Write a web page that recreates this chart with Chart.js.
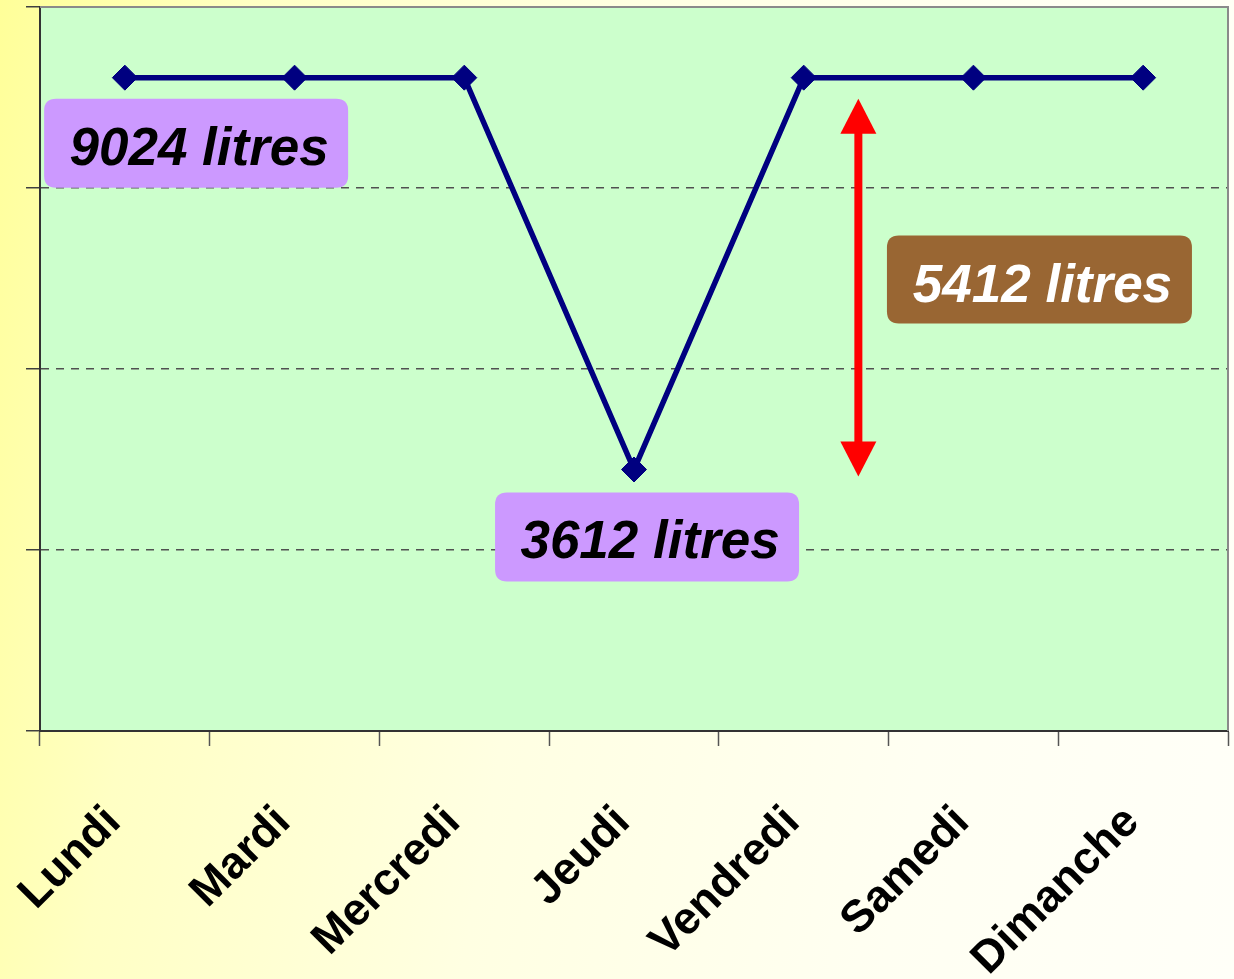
<!DOCTYPE html>
<html lang="fr">
<head>
<meta charset="utf-8">
<title>Consommation d'eau par jour</title>
<script src="https://cdn.jsdelivr.net/npm/chart.js@4"></script>
<style>
  html, body { margin: 0; padding: 0; }
  body {
    width: 1234px; height: 979px; overflow: hidden;
    background: linear-gradient(100deg, #FFFF99 0%, #FFFFC4 18%, #FFFFE2 45%, #FFFFF2 75%, #FFFFF8 100%);
  }
  #wrap { position: relative; width: 1234px; height: 979px; }
</style>
</head>
<body>
<div id="wrap"><canvas id="chart"></canvas></div>
<script>
// Daily water volume (litres)
const days = ['Lundi', 'Mardi', 'Mercredi', 'Jeudi', 'Vendredi', 'Samedi', 'Dimanche'];
const volumes = [9024, 9024, 9024, 3612, 9024, 9024, 9024];
const yTicks = [0, 2500, 5000, 7500, 10000];

const high = Math.max(...volumes);
const low = Math.min(...volumes);
const drop = high - low;

const FONT = '"Liberation Sans", Arial, Helvetica, sans-serif';

// Plot area fill and frame
const plotFrame = {
  id: 'plotFrame',
  beforeDraw(chart) {
    const { ctx, chartArea: a } = chart;
    ctx.save();
    ctx.fillStyle = '#CCFFCC';
    ctx.fillRect(a.left, a.top, a.right - a.left, a.bottom - a.top);
    ctx.restore();
  },
  beforeDatasetsDraw(chart) {
    const { ctx, chartArea: a } = chart;
    ctx.save();
    ctx.strokeStyle = '#8A8A8A';
    ctx.lineWidth = 2;
    ctx.beginPath();
    ctx.moveTo(a.left, a.top);
    ctx.lineTo(a.right, a.top);
    ctx.lineTo(a.right, a.bottom);
    ctx.stroke();
    ctx.restore();
  }
};

function roundRect(ctx, x, y, w, h, r) {
  ctx.beginPath();
  ctx.moveTo(x + r, y);
  ctx.lineTo(x + w - r, y);
  ctx.quadraticCurveTo(x + w, y, x + w, y + r);
  ctx.lineTo(x + w, y + h - r);
  ctx.quadraticCurveTo(x + w, y + h, x + w - r, y + h);
  ctx.lineTo(x + r, y + h);
  ctx.quadraticCurveTo(x, y + h, x, y + h - r);
  ctx.lineTo(x, y + r);
  ctx.quadraticCurveTo(x, y, x + r, y);
  ctx.closePath();
}

// Callout boxes and the red double arrow, placed through the chart's scales
const callouts = {
  id: 'callouts',
  afterDatasetsDraw(chart, args, opts) {
    const { ctx } = chart;
    const xs = chart.scales.x, ys = chart.scales.y;
    ctx.save();

    // double arrow between the two levels
    const ar = opts.arrow;
    const ax = xs.getPixelForValue(ar.index);
    const top = ys.getPixelForValue(ar.from) + ar.dyTop;
    const bot = ys.getPixelForValue(ar.to) + ar.dyBottom;
    const hw = ar.headWidth / 2, hl = ar.headLength;
    ctx.fillStyle = ar.color;
    ctx.fillRect(ax - ar.shaft / 2, top + hl - 1, ar.shaft, bot - top - 2 * hl + 2);
    ctx.beginPath();
    ctx.moveTo(ax, top); ctx.lineTo(ax + hw, top + hl); ctx.lineTo(ax - hw, top + hl);
    ctx.closePath(); ctx.fill();
    ctx.beginPath();
    ctx.moveTo(ax, bot); ctx.lineTo(ax + hw, bot - hl); ctx.lineTo(ax - hw, bot - hl);
    ctx.closePath(); ctx.fill();

    // labelled boxes
    ctx.font = 'italic bold 53px ' + FONT;
    ctx.textAlign = 'center';
    ctx.textBaseline = 'alphabetic';
    for (const b of opts.boxes) {
      const cx = xs.getPixelForValue(b.index);
      const y = ys.getPixelForValue(b.value) + b.dy;
      const x = cx - b.width / 2;
      ctx.fillStyle = b.fill;
      roundRect(ctx, x, y, b.width, b.height, 12);
      ctx.fill();
      ctx.fillStyle = b.color;
      ctx.fillText(b.text, cx + 3, y + 66);
    }
    ctx.restore();
  }
};

new Chart(document.getElementById('chart'), {
  type: 'line',
  data: {
    labels: days,
    datasets: [{
      data: volumes,
      borderColor: '#000080',
      backgroundColor: '#000080',
      borderWidth: 5.5,
      tension: 0,
      fill: false,
      pointStyle: 'rectRot',
      pointRadius: 12.5,
      pointBorderWidth: 1,
      pointBorderColor: '#000080',
      pointBackgroundColor: '#000080',
      pointHoverRadius: 12.5
    }]
  },
  options: {
    responsive: true,
    maintainAspectRatio: false,
    animation: false,
    events: [],
    layout: { autoPadding: false, padding: { top: 7, right: 6, left: 0, bottom: 0 } },
    plugins: {
      legend: { display: false },
      tooltip: { enabled: false },
      callouts: {
        arrow: { index: 4.322, from: high, to: low, dyTop: 21, dyBottom: 7,
                 color: '#FF0000', shaft: 8, headWidth: 36, headLength: 35 },
        boxes: [
          { text: high + ' litres', index: 0.42, value: high, dy: 21,
            width: 304, height: 89, fill: '#CC99FF', color: '#000000' },
          { text: low + ' litres', index: 3.077, value: low, dy: 23,
            width: 304, height: 89, fill: '#CC99FF', color: '#000000' },
          { text: drop + ' litres', index: 5.389, value: (high + low) / 2, dy: -38,
            width: 305, height: 88, fill: '#996633', color: '#FFFFFF' }
        ]
      }
    },
    scales: {
      x: {
        type: 'category',
        offset: true,
        grid: {
          display: true,
          offset: true,
          drawOnChartArea: false,
          drawTicks: true,
          tickLength: 15,
          tickColor: '#555555',
          tickWidth: 1.5
        },
        border: { display: true, color: '#333333', width: 2 },
        ticks: {
          color: '#000000',
          font: { family: FONT, size: 45, weight: 'bold' },
          minRotation: 45,
          maxRotation: 45,
          autoSkip: false,
          padding: 50,
          labelOffset: -11
        },
        afterFit(scale) {
          scale.height = 248;
          scale.paddingLeft = 0;
          scale.paddingRight = 0;
        }
      },
      y: {
        min: yTicks[0],
        max: yTicks[yTicks.length - 1],
        afterBuildTicks(scale) {
          scale.ticks = yTicks.map(v => ({ value: v }));
        },
        grid: {
          display: true,
          drawTicks: true,
          tickLength: 14,
          tickColor: '#404040',
          tickWidth: 1.5,
          lineWidth: 1.5,
          color(ctx) {
            const v = ctx.tick && ctx.tick.value;
            return (v === yTicks[0] || v === yTicks[yTicks.length - 1]) ? 'rgba(0,0,0,0)' : '#505050';
          }
        },
        border: { display: true, color: '#333333', width: 2, dash: [8, 7] },
        ticks: { display: false },
        afterFit(scale) {
          scale.width = 40;
          scale.paddingTop = 0;
          scale.paddingBottom = 0;
        }
      }
    }
  },
  plugins: [plotFrame, callouts]
});
</script>
</body>
</html>
